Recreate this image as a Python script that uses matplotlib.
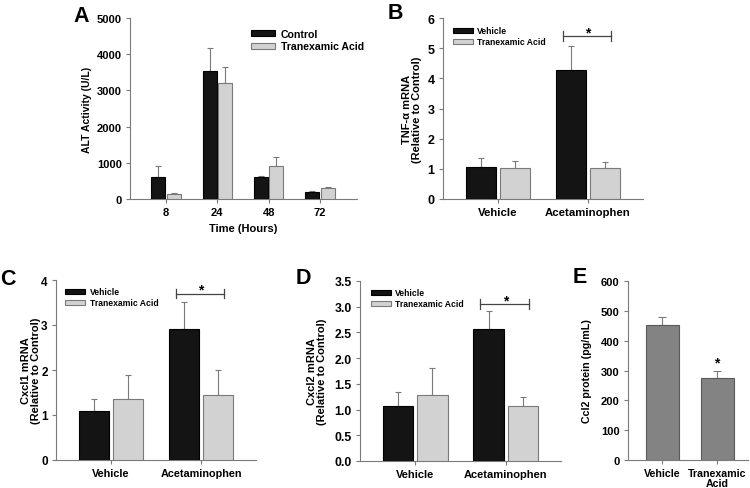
import matplotlib
matplotlib.use('Agg')
import matplotlib.pyplot as plt
import numpy as np

plt.rcParams['font.family'] = ['Liberation Sans', 'DejaVu Sans']
plt.rcParams['font.weight'] = 'bold'
plt.rcParams['axes.labelweight'] = 'bold'

# Panel A: ALT activity over time
a_times = ['8', '24', '48', '72']
a_control = [597, 3539, 597, 193]
a_control_err = [303, 643, 28, 18]
a_tranex = [138, 3199, 910, 294]
a_tranex_err = [37, 441, 257, 37]

# Panels B-D: mRNA relative to control
groups = ['Vehicle', 'Acetaminophen']
b_vehicle = [1.07, 4.26]
b_vehicle_err = [0.29, 0.80]
b_tranex = [1.04, 1.04]
b_tranex_err = [0.21, 0.17]

c_vehicle = [1.08, 2.92]
c_vehicle_err = [0.27, 0.59]
c_tranex = [1.35, 1.44]
c_tranex_err = [0.54, 0.55]

d_vehicle = [1.065, 2.56]
d_vehicle_err = [0.275, 0.35]
d_tranex = [1.28, 1.065]
d_tranex_err = [0.52, 0.175]

# significance bracket levels
b_sig = 5.39
c_sig = 3.70
d_sig = 3.05

# Panel E: Ccl2 protein
e_groups = ['Vehicle', 'Tranexamic\nAcid']
e_values = [451, 274]
e_err = [28, 24]

W, H = 750, 489
DARK = '#141414'
LIGHT = '#d2d2d2'
GREY = '#7a7a7a'
MID = '#838383'

fig = plt.figure(figsize=(W / 100, H / 100), dpi=100)


def px_axes(left, top, right, bottom):
    return fig.add_axes([left / W, 1 - bottom / H, (right - left) / W, (bottom - top) / H])


def style(ax, ysize, xsize):
    for s in ['top', 'right']:
        ax.spines[s].set_visible(False)
    for s in ['left', 'bottom']:
        ax.spines[s].set_color(GREY)
        ax.spines[s].set_linewidth(0.8)
    ax.tick_params(axis='both', direction='out', length=3, width=0.8, color=GREY)
    ax.tick_params(axis='y', labelsize=ysize, pad=3)
    ax.tick_params(axis='x', labelsize=xsize, pad=3)


def grouped(ax, v1, e1, v2, e2, width, off):
    x = np.arange(len(v1))
    ax.bar(x - off, v1, width, color=DARK, edgecolor='black', linewidth=0.8, zorder=3)
    ax.bar(x + off, v2, width, color=LIGHT, edgecolor=GREY, linewidth=0.8, zorder=3)
    ax.errorbar(x - off, v1, yerr=[np.zeros(len(v1)), e1], fmt='none', ecolor=GREY,
                elinewidth=0.8, capsize=2.5, capthick=0.8, zorder=2)
    ax.errorbar(x + off, v2, yerr=[np.zeros(len(v2)), e2], fmt='none', ecolor=GREY,
                elinewidth=0.8, capsize=2.5, capthick=0.8, zorder=2)
    return x


def legend(ax, labels, x, y, size, hl):
    from matplotlib.patches import Patch
    handles = [Patch(facecolor=DARK, edgecolor='black', linewidth=0.8),
               Patch(facecolor=LIGHT, edgecolor=GREY, linewidth=0.8)]
    ax.legend(handles, labels, loc='upper left', bbox_to_anchor=(x, y), frameon=False,
              fontsize=size, handlelength=hl, handleheight=0.55, handletextpad=0.5,
              labelspacing=0.25, borderpad=0, borderaxespad=0)


def bracket(ax, xc, y, h):
    ax.plot([xc - 0.28, xc + 0.26], [y, y], color='#444444', lw=0.9, zorder=4, clip_on=False)
    for xe in (xc - 0.28, xc + 0.26):
        ax.plot([xe, xe], [y - h / 2, y + h / 2], color='#444444', lw=0.9, zorder=4, clip_on=False)
    ax.text(xc, y, '*', ha='center', va='baseline', fontsize=10, fontweight='bold')


# ---- A ----
axA = px_axes(130, 19, 357, 200)
style(axA, 8, 8)
xa = grouped(axA, a_control, a_control_err, a_tranex, a_tranex_err, 0.27, 0.15)
axA.set_xlim(-0.7, 3.72)
axA.set_ylim(0, 5000)
axA.set_yticks(np.arange(0, 5001, 1000))
axA.set_xticks(xa)
axA.set_xticklabels(a_times)
axA.set_ylabel('ALT Activity (U/L)', fontsize=7.5)
axA.yaxis.set_label_coords((92 - 130) / 227, 0.5)
axA.set_xlabel('Time (Hours)', fontsize=8)
axA.xaxis.set_label_coords(0.5, -0.13)
axA.xaxis.label.set_va('top')
legend(axA, ['Control', 'Tranexamic Acid'], 0.533, 0.94, 7.6, 2.3)

# ---- B ----
axB = px_axes(443, 19, 643, 200)
style(axB, 9, 8.2)
xb = grouped(axB, b_vehicle, b_vehicle_err, b_tranex, b_tranex_err, 0.333, 0.19)
axB.set_xlim(-0.61, 1.61)
axB.set_ylim(0, 6)
axB.set_xticks(xb)
axB.set_xticklabels(groups)
axB.set_ylabel('TNF-α mRNA\n(Relative to Control)', fontsize=8, linespacing=0.95)
axB.yaxis.set_label_coords((422 - 443) / 200, 0.5)
legend(axB, ['Vehicle', 'Tranexamic Acid'], 0.048, 0.955, 6.2, 2.35)
bracket(axB, xb[1], b_sig, 0.33)

# ---- C ----
axC = px_axes(56, 281, 256, 461)
style(axC, 8.5, 7.8)
xc = grouped(axC, c_vehicle, c_vehicle_err, c_tranex, c_tranex_err, 0.333, 0.19)
axC.set_xlim(-0.61, 1.61)
axC.set_ylim(0, 4)
axC.set_yticks(range(0, 5))
axC.set_xticks(xc)
axC.set_xticklabels(groups)
axC.set_ylabel('Cxcl1 mRNA\n(Relative to Control)', fontsize=8, linespacing=0.95)
axC.yaxis.set_label_coords((41 - 56) / 200, 0.5)
legend(axC, ['Vehicle', 'Tranexamic Acid'], 0.045, 0.96, 6.2, 2.35)
bracket(axC, xc[1], c_sig, 0.22)

# ---- D ----
axD = px_axes(360, 282, 561, 462)
style(axD, 8.8, 8)
xd = grouped(axD, d_vehicle, d_vehicle_err, d_tranex, d_tranex_err, 0.333, 0.19)
axD.set_xlim(-0.61, 1.61)
axD.set_ylim(0, 3.5)
axD.set_yticks(np.arange(0, 3.51, 0.5))
axD.set_yticklabels([f'{v:.1f}' for v in np.arange(0, 3.51, 0.5)])
axD.set_xticks(xd)
axD.set_xticklabels(groups)
axD.set_ylabel('Cxcl2 mRNA\n(Relative to Control)', fontsize=8, linespacing=0.95)
axD.yaxis.set_label_coords((327 - 360) / 201, 0.5)
legend(axD, ['Vehicle', 'Tranexamic Acid'], 0.053, 0.96, 6.2, 2.35)
bracket(axD, xd[1], d_sig, 0.19)

# ---- E ----
axE = px_axes(628, 282, 748, 461)
style(axE, 8, 7.7)
xe = np.arange(len(e_values))
axE.bar(xe, e_values, 0.6, color=MID, edgecolor='#5a5a5a', linewidth=0.8, zorder=3)
axE.errorbar(xe, e_values, yerr=[np.zeros(len(e_values)), e_err], fmt='none', ecolor=GREY,
             elinewidth=0.8, capsize=3, capthick=0.8, zorder=2)
axE.set_xlim(-0.62, 1.56)
axE.set_ylim(0, 600)
axE.set_yticks(range(0, 601, 100))
axE.set_xticks(xe)
axE.set_xticklabels(e_groups, linespacing=1.0)
axE.set_ylabel('Ccl2 protein (pg/mL)', fontsize=7.7)
axE.yaxis.set_label_coords((592 - 628) / 120, 0.5)
axE.text(xe[1], e_values[1] + e_err[1] + 15, '*', ha='center', va='baseline',
         fontsize=10, fontweight='bold')

# panel letters
for letter, lx, ly in [('A', 73, 6), ('B', 388, 3), ('C', 0, 269), ('D', 296, 268), ('E', 573, 267)]:
    fig.text(lx / W, 1 - ly / H, letter, fontsize=15.5, fontweight='bold', ha='left', va='top')

fig.savefig('out.png', dpi=100)
